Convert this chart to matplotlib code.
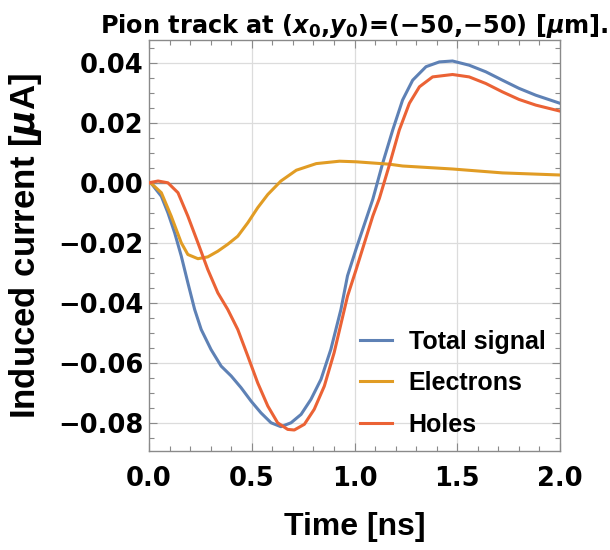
import matplotlib
matplotlib.use("Agg")
import matplotlib.pyplot as plt
from matplotlib.ticker import MultipleLocator, FuncFormatter

# values
time_total = [0, 0.011, 0.06, 0.092, 0.125, 0.157, 0.189, 0.222, 0.254, 0.302, 0.351, 0.4,
              0.448, 0.497, 0.545, 0.594, 0.642, 0.691, 0.74, 0.788, 0.837, 0.885, 0.934,
              0.966, 1.008, 1.089, 1.137, 1.186, 1.234, 1.283, 1.348, 1.413, 1.477, 1.558,
              1.639, 1.72, 1.8, 1.882, 2.0]
total = [0, -0.0002, -0.0045, -0.010, -0.0167, -0.0244, -0.0333, -0.0422, -0.0489, -0.0556,
         -0.0611, -0.0644, -0.0683, -0.0728, -0.0767, -0.080, -0.0813, -0.080, -0.0772,
         -0.0722, -0.0655, -0.0555, -0.0422, -0.031, -0.022, -0.0055, 0.0065, 0.0176, 0.0276,
         0.0342, 0.0387, 0.0403, 0.0406, 0.0392, 0.037, 0.0342, 0.0315, 0.0292, 0.0265]

time_e = [0, 0.011, 0.06, 0.108, 0.157, 0.189, 0.238, 0.286, 0.335, 0.383, 0.432, 0.481,
          0.529, 0.578, 0.642, 0.717, 0.814, 0.927, 1.008, 1.17, 1.234, 1.477, 1.72, 2.0]
electrons = [0, -0.0002, -0.0033, -0.0111, -0.020, -0.0239, -0.0253, -0.0247, -0.0228,
             -0.0205, -0.0178, -0.0133, -0.0083, -0.0039, 0.0006, 0.0042, 0.0064, 0.0072,
             0.007, 0.0062, 0.0056, 0.0046, 0.0033, 0.0026]

time_h = [0, 0.044, 0.092, 0.141, 0.189, 0.238, 0.286, 0.335, 0.383, 0.432, 0.481, 0.529,
          0.578, 0.626, 0.675, 0.707, 0.756, 0.804, 0.853, 0.901, 0.966, 1.008, 1.089, 1.121,
          1.17, 1.218, 1.267, 1.316, 1.38, 1.477, 1.558, 1.639, 1.72, 1.8, 1.882, 2.0]
holes = [0, 0.0006, 0.0, -0.0033, -0.0111, -0.020, -0.0289, -0.0367, -0.0422, -0.0489,
         -0.0578, -0.0667, -0.0744, -0.080, -0.0822, -0.0824, -0.0805, -0.0755, -0.0678,
         -0.0566, -0.0378, -0.0289, -0.0111, -0.0052, 0.006, 0.0176, 0.0265, 0.032, 0.0353,
         0.0361, 0.0353, 0.0331, 0.0303, 0.0278, 0.0259, 0.0239]

BLUE = "#5e81b5"
ORANGE = "#e19c24"
RED = "#eb6235"
FRAME = "#8a8a8a"

plt.rcParams['mathtext.fontset'] = 'custom'
plt.rcParams['mathtext.rm'] = 'DejaVu Sans:bold'
plt.rcParams['mathtext.bf'] = 'DejaVu Sans:bold'
plt.rcParams['mathtext.it'] = 'DejaVu Sans:italic:bold'

fig = plt.figure(figsize=(6.1, 5.5), dpi=100)
ax = fig.add_axes([149 / 610, 1 - 451 / 550, 411 / 610, 411 / 550])

ax.plot(time_total, total, color=BLUE, lw=2.2, label="Total signal", zorder=3,
        solid_joinstyle="round")
ax.plot(time_e, electrons, color=ORANGE, lw=2.2, label="Electrons", zorder=3,
        solid_joinstyle="round")
ax.plot(time_h, holes, color=RED, lw=2.2, label="Holes", zorder=3,
        solid_joinstyle="round")

ax.set_xlim(0, 2.0)
ax.set_ylim(-0.0894, 0.0476)

ax.axhline(0, color="#8c8c8c", lw=1.0, zorder=2)
for gx in [0.5, 1.0, 1.5]:
    ax.axvline(gx, color="#dcdcdc", lw=0.9, zorder=1)
for gy in [0.04, 0.02, -0.02, -0.04, -0.06, -0.08]:
    ax.axhline(gy, color="#dcdcdc", lw=0.9, zorder=1)

ax.xaxis.set_major_locator(MultipleLocator(0.5))
ax.xaxis.set_minor_locator(MultipleLocator(0.1))
ax.yaxis.set_major_locator(MultipleLocator(0.02))
ax.yaxis.set_minor_locator(MultipleLocator(0.005))
ax.xaxis.set_major_formatter(FuncFormatter(lambda v, p: f"{v:.1f}"))
ax.yaxis.set_major_formatter(FuncFormatter(
    lambda v, p: ("\u2212" if v < -1e-9 else "") + f"{abs(v):.2f}"))

ax.tick_params(which="both", direction="in", top=True, right=True, color=FRAME, width=0.8)
ax.tick_params(which="major", length=6)
ax.tick_params(which="minor", length=3.5)
ax.tick_params(axis="x", which="major", pad=11)
ax.tick_params(axis="y", which="major", pad=4)
for lab in ax.get_xticklabels() + ax.get_yticklabels():
    lab.set_fontfamily("DejaVu Sans")
    lab.set_fontweight("bold")
    lab.set_fontsize(18.5)
for s in ax.spines.values():
    s.set_color(FRAME)
    s.set_linewidth(1.0)

ax.set_xlabel("Time [ns]", fontfamily="Liberation Sans", fontweight="bold", fontsize=23,
              labelpad=14)
ax.set_ylabel("Induced current [$\\mu$A]", fontfamily="Liberation Sans",
              fontweight="bold", fontsize=25, labelpad=10)

fig.text(100 / 610, 1 - 33 / 550,
         "Pion track at ($x_0$,$y_0$)=(\u221250,\u221250) [$\\mu$m].",
         ha="left", va="baseline", fontfamily="DejaVu Sans", fontweight="bold",
         fontsize=17.3)

leg = ax.legend(loc="upper left", bbox_to_anchor=(0.513, 0.2956), frameon=False,
                prop={"family": "Liberation Sans", "weight": "bold", "size": 18},
                handlelength=1.3, handletextpad=0.65, labelspacing=0.7,
                borderpad=0, borderaxespad=0)

fig.savefig("out.png", dpi=100)
